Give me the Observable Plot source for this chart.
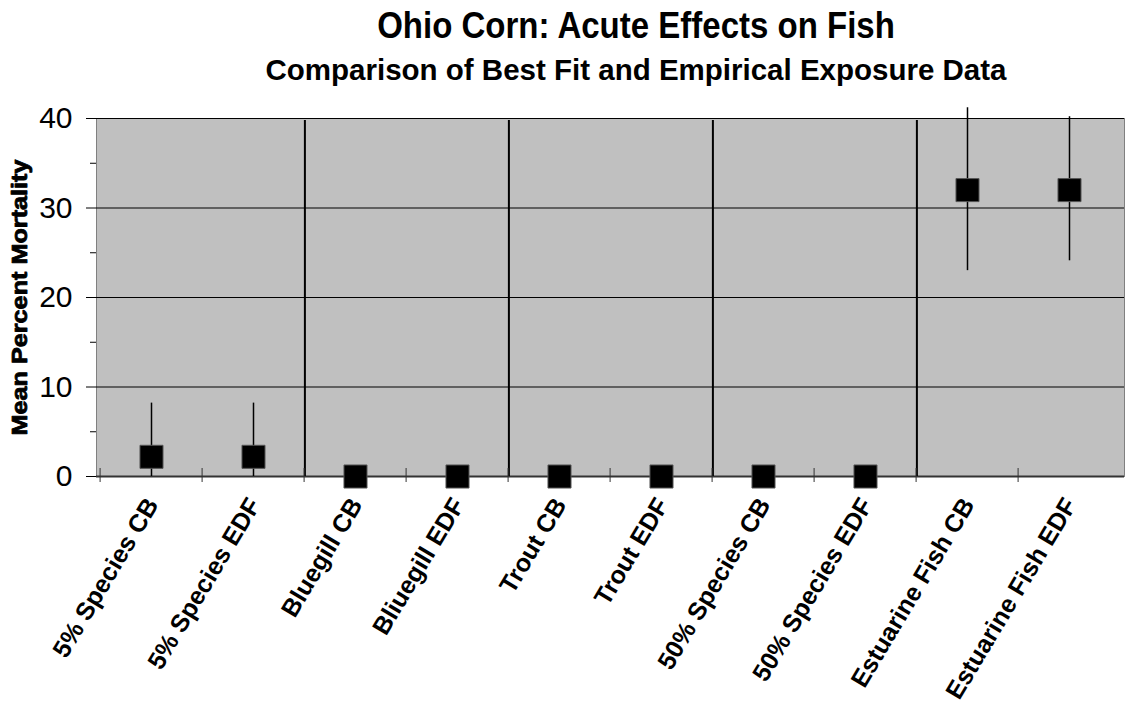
<!DOCTYPE html>
<html><head><meta charset="utf-8">
<script src="https://cdn.jsdelivr.net/npm/d3@7"></script>
<script src="https://cdn.jsdelivr.net/npm/@observablehq/plot@0.6"></script>
<style>
body{margin:0;background:#fff;font-family:"Liberation Sans",Arial,sans-serif;color:#000;overflow:hidden;}
#head{position:relative;width:1127px;height:95px;}
#title{position:absolute;left:200px;width:872px;top:7px;text-align:center;font-size:33px;font-weight:bold;line-height:1;white-space:nowrap;transform:scaleY(1.1);transform-origin:50% 0;}
#subtitle{position:absolute;left:200px;width:872px;top:55px;text-align:center;font-size:29.5px;font-weight:bold;line-height:1;white-space:nowrap;}
</style></head>
<body>
<div id="head"><div id="title">Ohio Corn: Acute Effects on Fish</div><div id="subtitle">Comparison of Best Fit and Empirical Exposure Data</div></div>
<div id="chart"></div>
<script>
const categories = ["5% Species CB","5% Species EDF","Bluegill CB","Bliuegill EDF","Trout CB","Trout EDF","50% Species CB","50% Species EDF","Estuarine Fish CB","Estuarine Fish EDF"];
const means = [2.2, 2.2, 0, 0, 0, 0, 0, 0, 32, 32];
const lower = [0, 0, 0, 0, 0, 0, 0, 0, 23, 24.1];
const upper = [8.2, 8.2, 0, 0, 0, 0, 0, 0, 41.2, 40.2];
const separatorsAfter = ["5% Species EDF","Bliuegill EDF","Trout EDF","50% Species EDF"];
const majorTicks = [0, 10, 20, 30, 40];
const minorTicks = [5, 15, 25, 35];
const yLabel = "Mean Percent Mortality";

const data = categories.map((c, i) => ({cat: c, mean: means[i], lo: lower[i], hi: upper[i]}));
const W = 1127, H = 618, mL = 96, mR = 3, mT = 23, mB = 237;
const bw = (W - mL - mR) / categories.length;

const chart = Plot.plot({
  width: W, height: H,
  marginLeft: mL, marginRight: mR, marginTop: mT, marginBottom: mB,
  style: {fontFamily: "Liberation Sans, Arial, sans-serif", color: "#000", background: "#fff"},
  x: {type: "band", domain: categories, padding: 0},
  y: {domain: [0, 40]},
  marks: [
    Plot.frame({fill: "#c0c0c0", stroke: "#808080"}),
    Plot.ruleY([10, 20, 30, 40], {stroke: "#000", strokeWidth: 1}),
    Plot.ruleY([0], {stroke: "#333", strokeWidth: 2}),
    Plot.ruleX(separatorsAfter, {dx: bw / 2, y1: 0, y2: 40, stroke: "#000", strokeWidth: 2, insetBottom: -2}),
    Plot.ruleX(categories, {dx: -bw / 2, y1: 0, y2: 0, insetTop: -8, insetBottom: -6, stroke: "#333", strokeWidth: 1}),
    Plot.ruleX(data.filter(d => d.hi > d.lo), {x: "cat", y1: "lo", y2: "hi", stroke: "#000", strokeWidth: 1.5}),
    Plot.dot(data, {x: "cat", y: "mean", symbol: "square", r: 13, fill: "#000", stroke: "#555", strokeWidth: 1}),
    Plot.axisY({ticks: majorTicks, tickSize: 10, tickPadding: 14, fontSize: 30, label: null, tickFormat: d => String(d)}),
    Plot.axisY({ticks: minorTicks, tickSize: 6, label: null, tickFormat: () => ""}),
    Plot.axisX({tickSize: 0, tickRotate: -59, fontSize: 25, fontWeight: "bold", tickPadding: 24, dx: 1, label: null}),
    Plot.text([yLabel], {frameAnchor: "left", dx: -77, rotate: -90, textAnchor: "middle", fontSize: 22, fontWeight: "bold", fill: "#000", stroke: "#000", strokeWidth: 0.8})
  ]
});
document.getElementById("chart").appendChild(chart);
d3.select(chart).selectAll("text").filter(function(){ return this.textContent === yLabel; })
  .attr("textLength", 276).attr("lengthAdjust", "spacingAndGlyphs");
</script>
</body></html>
